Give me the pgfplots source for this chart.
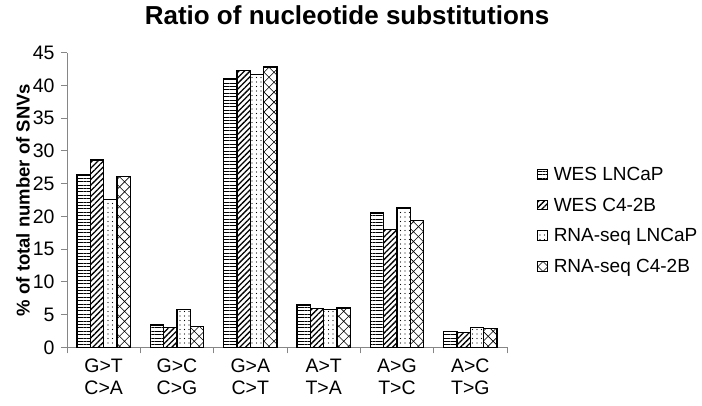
\documentclass[border=0pt]{standalone}
\usepackage{fontspec}
\setmainfont{Liberation Sans}
\usepackage{pgfplots}
\usepackage{pgfplotstable}
\pgfplotsset{compat=1.18}
\usetikzlibrary{patterns,patterns.meta}

\tikzdeclarepattern{
  name=diagcross,
  type=uncolored,
  bounding box={(-0.5pt,-0.5pt) and (10.5pt,10.5pt)},
  tile size={(10pt,10pt)},
  code={\draw[line width=0.6pt] (0pt,0pt) -- (10pt,10pt) (0pt,10pt) -- (10pt,0pt);}
}

\definecolor{axgray}{HTML}{868686}
\newcommand{\tkf}{\fontsize{19.5bp}{22bp}\selectfont}

\pgfplotstableread{
x a b c d
0 26.3 28.6 22.6 26.1
1 3.4 3.05 5.8 3.2
2 41.0 42.3 41.7 42.8
3 6.45 5.9 5.8 6.0
4 20.5 18.0 21.3 19.4
5 2.45 2.3 3.0 2.85
}\data

\begin{document}
\begin{tikzpicture}
\useasboundingbox (-67bp,-58.7bp) rectangle (635bp,347.3bp);
\begin{axis}[
  at={(0,0)}, anchor=south west,
  scale only axis,
  width=440bp, height=294.6bp,
  xmin=-0.5, xmax=5.5, ymin=0, ymax=45,
  axis lines=left,
  axis line style={draw=axgray, line width=0.8pt, -},
  ybar=0pt, bar width=13.3bp,
  xtick={0,...,5},
  xticklabels={{G>T\\C>A},{G>C\\C>G},{G>A\\C>T},{A>T\\T>A},{A>G\\T>C},{A>C\\T>G}},
  x tick label style={align=center, font=\tkf, yshift=-2bp},
  major x tick style={draw=none},
  minor xtick={-0.5,0.5,...,5.5},
  minor x tick style={draw=axgray, line width=0.8pt},
  minor tick length=6bp,
  ytick={0,5,...,45},
  y tick label style={font=\tkf, xshift=-3bp},
  y tick style={draw=axgray, line width=0.8pt},
  major tick length=6bp,
  tick align=outside,
  /pgf/number format/assume math mode=true,
  ylabel={\textbf{\% of total number of SNVs}},
  ylabel style={font=\fontsize{18.5bp}{20bp}\selectfont, at={(axis description cs:-0.1,0.5)}, anchor=center},
  legend style={at={(1.068,0.43)}, anchor=west, draw=none, font=\fontsize{19bp}{20bp}\selectfont,
     row sep=12bp, inner sep=0pt},
  legend cell align=left,
  legend image code/.code={\draw[#1, line width=1pt] (0bp,-4.5bp) rectangle (9.5bp,5bp); \path (13.5bp,0bp);},
  every axis plot/.append style={draw=black, line width=1.3pt},
]
\addplot[pattern={Lines[angle=0,distance=3.4bp,line width=0.9bp]}] table[x=x,y=a]{\data};
\addplot[pattern={Lines[angle=45,distance=4bp,line width=1.3bp]}] table[x=x,y=b]{\data};
\addplot[pattern={Dots[distance=4.5bp,radius=0.7bp]}] table[x=x,y=c]{\data};
\addplot[pattern=diagcross] table[x=x,y=d]{\data};
\legend{WES LNCaP, WES C4-2B, RNA-seq LNCaP, RNA-seq C4-2B}
\end{axis}
\node[font=\fontsize{26bp}{28bp}\selectfont\bfseries] at (280bp,332.5bp) {Ratio of nucleotide substitutions};
\end{tikzpicture}
\end{document}
